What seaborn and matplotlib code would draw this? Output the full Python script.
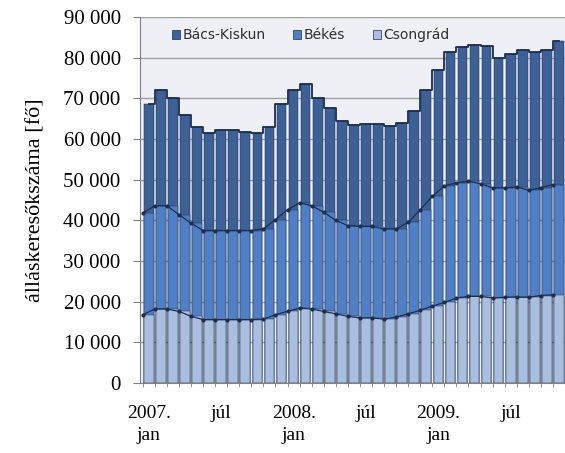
import numpy as np
import pandas as pd
import matplotlib
matplotlib.use("Agg")
import matplotlib.pyplot as plt
import seaborn as sns
from matplotlib.patches import Patch
from matplotlib.ticker import FuncFormatter, FixedLocator

# Havi adatok 2007. jan - 2009. nov (fő)
honapok = [f"{e}-{h:02d}" for e in (2007, 2008, 2009) for h in range(1, 13)][:35]

csongrad = [16800, 18200, 18200, 17600, 16400, 15600, 15600, 15600, 15600, 15600,
            15700, 16800, 17600, 18400, 18200, 17600, 17000, 16400, 16000, 16000,
            15700, 16200, 17000, 17900, 18900, 19800, 20900, 21300, 21300, 20900,
            21100, 21100, 21100, 21500, 21700]
bekes = [25000, 25400, 25400, 23800, 22900, 21900, 21900, 21900, 21900, 21900,
         22200, 23400, 25000, 25900, 25400, 24400, 23000, 22300, 22500, 22500,
         22200, 21700, 22500, 24700, 27000, 28700, 28300, 28300, 27700, 27100,
         26900, 27100, 26300, 26500, 27100]
bacs_kiskun = [26700, 28400, 26400, 24600, 23700, 24000, 24800, 24700, 24300, 24000,
               25100, 28300, 29400, 29200, 26400, 25500, 24500, 24800, 25100, 25100,
               25300, 26100, 27500, 29400, 31100, 33000, 33500, 33600, 33800, 32000,
               33000, 33800, 33900, 34000, 35200]

tick_pos = [0, 6, 12, 18, 24, 30]
tick_labels = ["2007.\njan", "júl", "2008.\njan", "júl", "2009.\njan", "júl"]

df = pd.DataFrame({"honap": honapok, "Csongrád": csongrad, "Békés": bekes,
                   "Bács-Kiskun": bacs_kiskun})
df["also"] = df["Csongrád"]
df["kozep"] = df["also"] + df["Békés"]
df["teljes"] = df["kozep"] + df["Bács-Kiskun"]

c_bacs = "#3d6197"
c_bekes = "#4f7fc6"
c_csong = "#aabfdf"
c_edge = "#1c2d4d"

fig = plt.figure(figsize=(5.65, 4.53), dpi=100)
ax = fig.add_axes([0.248, 0.1545, 0.752, 0.808])
ax.set_facecolor("#eef0f6")

# egymásra rajzolt oszlopok (halmozott hatás)
for col, c in [("teljes", c_bacs), ("kozep", c_bekes), ("also", c_csong)]:
    sns.barplot(data=df, x="honap", y=col, color=c, saturation=1, width=0.8,
                edgecolor=c_edge, linewidth=0.35, ax=ax, zorder=2)

# felső kontúr + határvonalak pontokkal
sns.lineplot(x=np.arange(len(df)), y=df["teljes"].values, color=c_edge, lw=1.3,
             drawstyle="steps-mid", ax=ax, zorder=3)
xs = np.arange(len(df)) - 0.5
for col in ["kozep", "also"]:
    sns.lineplot(x=xs, y=df[col].values, color=c_edge, lw=0.9, marker="o",
                 markersize=3, markeredgewidth=0, ax=ax, zorder=3)

ax.set_ylim(0, 90000)
ax.set_xlim(-0.72, 34.5)
ax.yaxis.set_major_locator(FixedLocator(np.arange(0, 90001, 10000)))
ax.yaxis.set_major_formatter(FuncFormatter(lambda v, p: f"{int(v):,}".replace(",", " ")))
ax.grid(axis="y", color="#a0a0a0", lw=1.0, zorder=0)
ax.set_axisbelow(True)

ax.set_xticks(tick_pos)
ax.set_xticklabels(tick_labels, fontfamily="Liberation Serif", fontsize=14, linespacing=1.35)
ax.set_xticks(np.arange(len(df) + 1) - 0.5, minor=True)
ax.tick_params(axis="x", which="major", length=0, pad=16)
ax.tick_params(axis="x", which="minor", length=3, color="#808080")
ax.tick_params(axis="y", length=5, color="#808080", labelsize=15, pad=9)
for lab in ax.get_yticklabels():
    lab.set_fontfamily("Liberation Serif")

ax.set_xlabel("")
ax.set_ylabel("álláskeresőkszáma [fő]", fontfamily="Liberation Serif", fontsize=16, labelpad=13)

for s in ["top", "right"]:
    ax.spines[s].set_visible(False)
for s in ["left", "bottom"]:
    ax.spines[s].set_color("#808080")

handles = [Patch(facecolor=c_bacs, edgecolor=c_edge, lw=0.5),
           Patch(facecolor=c_bekes, edgecolor=c_edge, lw=0.5),
           Patch(facecolor=c_csong, edgecolor=c_edge, lw=0.5)]
leg = ax.legend(handles, ["Bács-Kiskun", "Békés", "Csongrád"], ncol=3, loc="upper left",
                bbox_to_anchor=(0.045, 1.005), frameon=False, fontsize=10,
                handlelength=0.6, handleheight=0.6, handletextpad=0.15, columnspacing=2.0)
for t in leg.get_texts():
    t.set_color("#303030")

fig.savefig("out.png", dpi=100)
